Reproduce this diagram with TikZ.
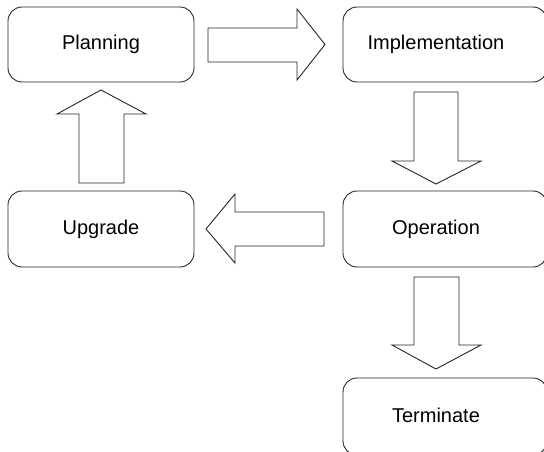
\documentclass[tikz,border=0pt]{standalone}
\usepackage{fontspec}
\setmainfont{Liberation Sans}
\begin{document}
\begin{tikzpicture}[x=1pt,y=-1pt,
  box/.style={draw=black!85,line width=0.9pt,rounded corners=14pt},
  blockarrow/.style={draw=black!85,line width=0.9pt,fill=white,line join=miter},
  lbl/.style={font=\fontsize{20}{24}\selectfont,inner sep=0pt}]
\useasboundingbox (0,0) rectangle (544,452);
\clip (0,0) rectangle (544,452);
% boxes
\draw[box] (8,7) rectangle (194,82);
\node[lbl] (planning) at (101,44.5) {Planning};
\draw[box] (343,7) rectangle (547,82);
\node[lbl] (impl) at (436,44.5) {Implementation};
\draw[box] (8,191) rectangle (194,267);
\node[lbl] (upgrade) at (101,229) {Upgrade};
\draw[box] (343,191) rectangle (547,267);
\node[lbl] (oper) at (436,229) {Operation};
\draw[box] (343,378) rectangle (547,455);
\node[lbl] (term) at (436,415) {Terminate};
% right arrow Planning -> Implementation
\draw[blockarrow] (208,28) -- (297,28) -- (297,9) -- (325,44.5) -- (297,80) -- (297,62) -- (208,62) -- cycle;
% down arrow Implementation -> Operation
\draw[blockarrow] (414,92) -- (458,92) -- (458,161) -- (481,161) -- (436,184) -- (392,161) -- (414,161) -- cycle;
% left arrow Operation -> Upgrade
\draw[blockarrow] (324,212) -- (235,212) -- (235,194) -- (206,229) -- (235,263) -- (235,246) -- (324,246) -- cycle;
% up arrow Upgrade -> Planning
\draw[blockarrow] (79,183) -- (79,114) -- (57,114) -- (101,90) -- (146,114) -- (124,114) -- (124,183) -- cycle;
% down arrow Operation -> Terminate
\draw[blockarrow] (414,277) -- (459,277) -- (459,345) -- (481,345) -- (436,369) -- (392,345) -- (414,345) -- cycle;
\end{tikzpicture}
\end{document}
